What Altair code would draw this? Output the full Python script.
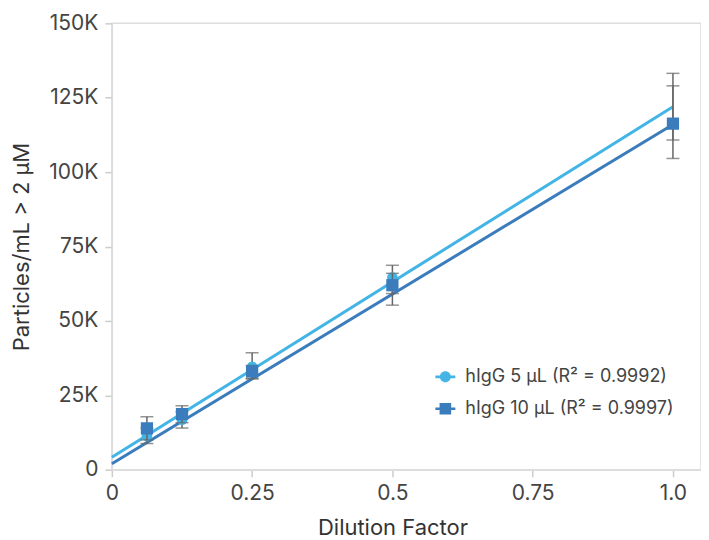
import altair as alt
import pandas as pd

# ---- data ----
dilution = [0.0625, 0.125, 0.25, 0.5, 1.0]
series_names = ["hIgG 5 µL (R² = 0.9992)", "hIgG 10 µL (R² = 0.9997)"]

y5 = [11400, 16800, 34600, 64600, 122000]
y5_lo = [8800, 14000, 30500, 59200, 110800]
y5_hi = [14000, 19500, 39300, 68700, 133200]
show5 = [True, True, True, True, False]   # marker not visible at 1.0 in the reference

y10 = [13900, 18700, 33000, 62000, 116300]
y10_lo = [10000, 15800, 30700, 55300, 104600]
y10_hi = [17800, 21500, 35000, 66000, 129000]
show10 = [True, True, True, True, True]

fit_x = [0.0, 1.0]
fit5 = [4200, 122000]
fit10 = [2000, 116000]

x_ticks = [0, 0.25, 0.5, 0.75, 1.0]
y_ticks = [0, 25000, 50000, 75000, 100000, 125000, 150000]

colors = ["#42b4e6", "#3a7cbc"]
FONT = "Inter"

# ---- tables ----
rows = []
for name, ys, lo, hi, sh in [
    (series_names[0], y5, y5_lo, y5_hi, show5),
    (series_names[1], y10, y10_lo, y10_hi, show10),
]:
    for x, y, l, h, s in zip(dilution, ys, lo, hi, sh):
        rows.append({"x": x, "y": y, "lo": l, "hi": h, "series": name, "show": s})
pts = pd.DataFrame(rows)

fit_rows = []
for name, ys in [(series_names[0], fit5), (series_names[1], fit10)]:
    for x, y in zip(fit_x, ys):
        fit_rows.append({"x": x, "y": y, "series": name})
fits = pd.DataFrame(fit_rows)

xscale = alt.Scale(domain=[0, 1.05], nice=False, zero=False)
yscale = alt.Scale(domain=[0, 150000], nice=False)
cscale = alt.Scale(domain=series_names, range=colors)

xaxis = alt.Axis(values=x_ticks, labelExpr="datum.value == 1 ? '1.0' : format(datum.value, '')",
                 labelFlush=False, title="Dilution Factor", grid=False, titleX=281)
yaxis = alt.Axis(values=y_ticks,
                 labelExpr="datum.value == 0 ? '0' : (datum.value / 1000) + 'K'",
                 labelFlush=False, title="Particles/mL > 2 µM", grid=False)

X = alt.X("x:Q", scale=xscale, axis=xaxis)
Y = alt.Y("y:Q", scale=yscale, axis=yaxis)
C = alt.Color("series:N", scale=cscale, legend=None)

# legend symbols: line with marker
path_circle = ("M-1,-0.13L1,-0.13L1,0.13L-1,0.13Z "
               "M0.55,0A0.55,0.55 0 1 1 -0.55,0A0.55,0.55 0 1 1 0.55,0Z")
path_square = ("M-1,-0.13L1,-0.13L1,0.13L-1,0.13Z "
               "M-0.58,-0.58L0.58,-0.58L0.58,0.58L-0.58,0.58Z")

leg = alt.Legend(title=None, orient="none", legendX=324, legendY=344,
                 symbolSize=400, rowPadding=13, labelOffset=10, labelLimit=0,
                 labelFontSize=18, labelColor="#444444",
                 labelFont=FONT, symbolOpacity=1, symbolStrokeWidth=0)

# invisible layer that only carries the legend (drawn first)
legend_layer = alt.Chart(pts).mark_point(filled=True, opacity=0, size=1).encode(
    x=X, y=Y,
    color=alt.Color("series:N", scale=cscale, legend=leg),
    shape=alt.Shape("series:N",
                    scale=alt.Scale(domain=series_names, range=[path_circle, path_square]),
                    legend=leg),
)

lines = alt.Chart(fits).mark_line(strokeWidth=3).encode(x="x:Q", y="y:Q", color=C)

def errbars(name):
    base = alt.Chart(pts).transform_filter(alt.datum.series == name)
    rule = base.mark_rule(color="#666666", strokeWidth=1.5).encode(
        x="x:Q", y=alt.Y("lo:Q"), y2="hi:Q")
    cap_lo = base.mark_tick(color="#666666", orient="horizontal", size=13, thickness=1.5).encode(
        x="x:Q", y="lo:Q")
    cap_hi = base.mark_tick(color="#666666", orient="horizontal", size=13, thickness=1.5).encode(
        x="x:Q", y="hi:Q")
    return rule + cap_lo + cap_hi

circles = alt.Chart(pts).transform_filter(
    (alt.datum.series == series_names[0]) & alt.datum.show
).mark_point(shape="circle", filled=True, size=115, opacity=1).encode(x="x:Q", y="y:Q", color=C)

squares = alt.Chart(pts).transform_filter(
    (alt.datum.series == series_names[1]) & alt.datum.show
).mark_point(shape="square", filled=True, size=150, opacity=1).encode(x="x:Q", y="y:Q", color=C)

chart = alt.layer(
    legend_layer, lines, errbars(series_names[0]), circles, errbars(series_names[1]), squares
).properties(
    width=590, height=447,
    autosize=alt.AutoSizeParams(type="none"),
    padding={"left": 104, "top": 15, "right": 0, "bottom": 70},
).configure_view(
    stroke="#dddddd", strokeWidth=1.5
).configure_axis(
    labelFont=FONT, titleFont=FONT,
    labelFontSize=21, titleFontSize=22,
    labelColor="#444444", titleColor="#333333",
    titleFontWeight="normal",
    domainColor="#dddddd", domainWidth=1.5,
    tickColor="#cccccc", tickSize=7, tickWidth=1.5,
).configure_axisX(
    labelPadding=6, titlePadding=14,
).configure_axisY(
    labelPadding=7, titlePadding=15,
)

chart.save("out.html", embed_options={"renderer": "svg", "actions": False})
